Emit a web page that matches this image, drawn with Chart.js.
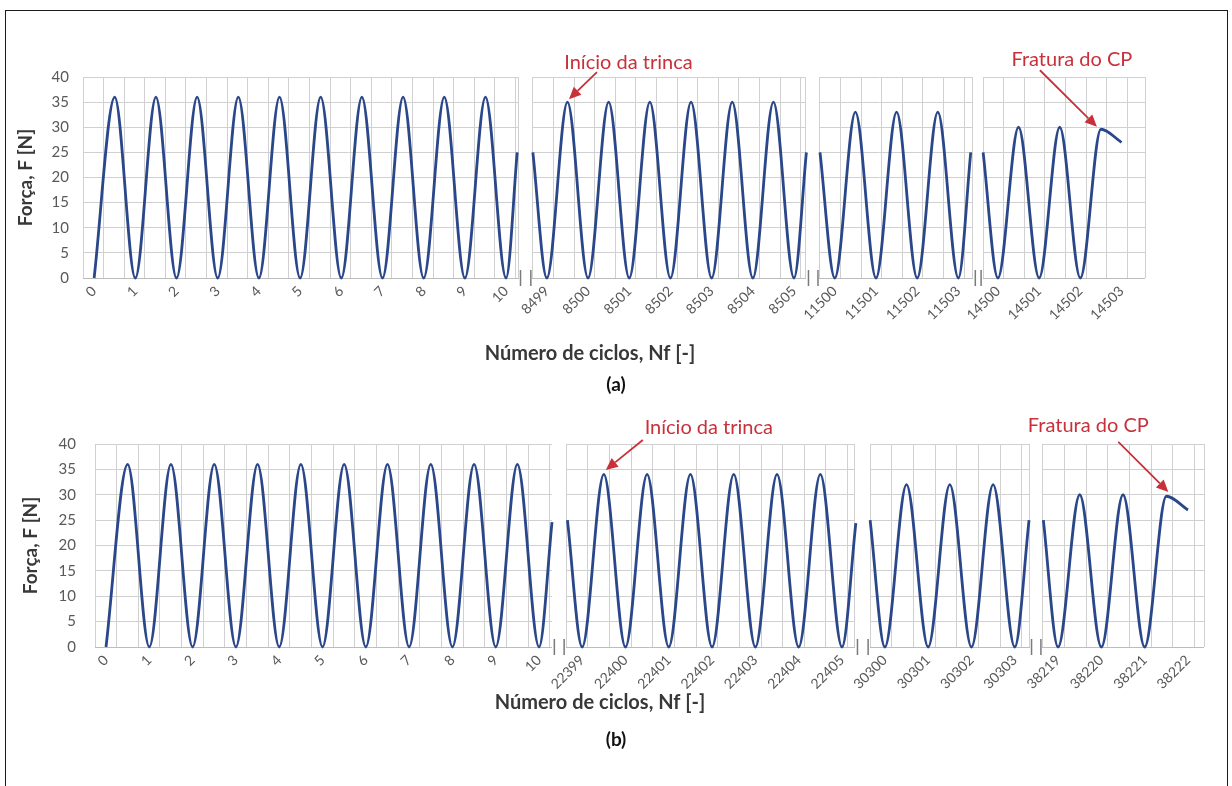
<!DOCTYPE html>
<html>
<head>
<meta charset="utf-8">
<title>Força x Número de ciclos</title>
<script src="https://cdn.jsdelivr.net/npm/chart.js@4.4.1/dist/chart.umd.min.js"></script>
<style>
  html, body { margin: 0; padding: 0; background: #fff; }
  #page { position: relative; width: 1232px; height: 786px; overflow: hidden; background: #fff; }
  #frame { position: absolute; left: 5px; top: 10px; width: 1223px; height: 800px;
           border: 1.5px solid #1b1b1b; box-sizing: border-box; }
  .panel { position: absolute; left: 0; width: 1232px; }
  #panelA { top: 0; height: 420px; }
  #panelB { top: 393px; height: 393px; }
</style>
</head>
<body>
<div id="page">
  <div id="frame"></div>
  <div class="panel" id="panelA"><canvas id="chartA" width="1232" height="420"></canvas></div>
  <div class="panel" id="panelB"><canvas id="chartB" width="1232" height="393"></canvas></div>
</div>
<script>
// ---------------- Test (a): force at each trough / crest of the recorded cycle blocks ----------------
const cyclesA1 = [0, 0.5, 1, 1.5, 2, 2.5, 3, 3.5, 4, 4.5, 5, 5.5, 6, 6.5, 7, 7.5, 8, 8.5, 9, 9.5, 10, 10.27];
const forceA1  = [0, 36, 0, 36, 0, 36, 0, 36, 0, 36, 0, 36, 0, 36, 0, 36, 0, 36, 0, 36, 0, 25];
const cyclesA2 = [8498.66, 8499, 8499.5, 8500, 8500.5, 8501, 8501.5, 8502, 8502.5, 8503, 8503.5, 8504, 8504.5, 8505, 8505.3];
const forceA2  = [25, 0, 35, 0, 35, 0, 35, 0, 35, 0, 35, 0, 35, 0, 25];
const cyclesA3 = [11499.64, 11500, 11500.5, 11501, 11501.5, 11502, 11502.5, 11503, 11503.3];
const forceA3  = [25, 0, 33, 0, 33, 0, 33, 0, 25];
const cyclesA4 = [14499.64, 14500, 14500.5, 14501, 14501.5, 14502, 14502.5, 14503];
const forceA4  = [25, 0, 30, 0, 30, 0, 29.6, 27];

const labelsA1 = [0, 1, 2, 3, 4, 5, 6, 7, 8, 9, 10];
const labelsA2 = [8499, 8500, 8501, 8502, 8503, 8504, 8505];
const labelsA3 = [11500, 11501, 11502, 11503];
const labelsA4 = [14500, 14501, 14502, 14503];

// ---------------- Test (b) ----------------
const cyclesB1 = [0, 0.5, 1, 1.5, 2, 2.5, 3, 3.5, 4, 4.5, 5, 5.5, 6, 6.5, 7, 7.5, 8, 8.5, 9, 9.5, 10, 10.3];
const forceB1  = [0, 36, 0, 36, 0, 36, 0, 36, 0, 36, 0, 36, 0, 36, 0, 36, 0, 36, 0, 36, 0, 24.6];
const cyclesB2 = [22398.66, 22399, 22399.5, 22400, 22400.5, 22401, 22401.5, 22402, 22402.5, 22403, 22403.5, 22404, 22404.5, 22405, 22405.32];
const forceB2  = [25, 0, 34, 0, 34, 0, 34, 0, 34, 0, 34, 0, 34, 0, 24.4];
const cyclesB3 = [30299.66, 30300, 30300.5, 30301, 30301.5, 30302, 30302.5, 30303, 30303.33];
const forceB3  = [25, 0, 32, 0, 32, 0, 32, 0, 25];
const cyclesB4 = [38218.66, 38219, 38219.5, 38220, 38220.5, 38221, 38221.5, 38222];
const forceB4  = [25, 0, 30, 0, 30, 0, 29.7, 27];

const labelsB1 = [0, 1, 2, 3, 4, 5, 6, 7, 8, 9, 10];
const labelsB2 = [22399, 22400, 22401, 22402, 22403, 22404, 22405];
const labelsB3 = [30300, 30301, 30302, 30303];
const labelsB4 = [38219, 38220, 38221, 38222];

const yTicks = [0, 5, 10, 15, 20, 25, 30, 35, 40];

// ---------------- styling ----------------
const FONT = 'Lato, "Open Sans", sans-serif';
const LINE = '#2a4789';
const GRID = '#d0d0d0';
const AXIS = '#bcbcbc';
const TICK = '#595959';
const TITLE = '#383838';
const RED = '#c8303a';

// Broken axis: each recorded block is placed on a shared axis by aligning one of its
// cycles (c) to a position (v) of that axis; "grid" is the extent of the block's grid.
const panelA = {
  canvas: 'chartA', left: 83, right: 1145, top: 77, bottom: 278, height: 420, span: 25.78,
  yTickPad: 14, yTitlePad: 14,
  blocks: [
    { cycles: cyclesA1, force: forceA1, labels: labelsA1, ref: { c: 0, v: 0.27 },     grid: [0, 10.56] },
    { cycles: cyclesA2, force: forceA2, labels: labelsA2, ref: { c: 8499, v: 11.26 },  grid: [10.92, 17.55] },
    { cycles: cyclesA3, force: forceA3, labels: labelsA3, ref: { c: 11500, v: 18.25 }, grid: [17.89, 21.6] },
    { cycles: cyclesA4, force: forceA4, labels: labelsA4, ref: { c: 14500, v: 22.21 }, grid: [21.85, 25.78] }
  ],
  xTitle: { x: 590, y: 354 }, tag: { text: '(a)', x: 616, y: 385 },
  notes: [
    { text: 'Início da trinca', block: 1, index: 2, tip: [1.5, -3], tail: [29.5, -30], label: [61, -40] },
    { text: 'Fratura do CP',    block: 3, index: 6, tip: [-4, -2.5], tail: [-61, -59], label: [-29, -70] }
  ]
};

const panelB = {
  canvas: 'chartB', left: 95, right: 1204, top: 51, bottom: 254, height: 393, span: 25.61,
  yTickPad: 19, yTitlePad: 19,
  blocks: [
    { cycles: cyclesB1, force: forceB1, labels: labelsB1, ref: { c: 0, v: 0.254 },    grid: [0, 10.55] },
    { cycles: cyclesB2, force: forceB2, labels: labelsB2, ref: { c: 22399, v: 11.25 }, grid: [10.88, 17.55] },
    { cycles: cyclesB3, force: forceB3, labels: labelsB3, ref: { c: 30300, v: 18.24 }, grid: [17.9, 21.57] },
    { cycles: cyclesB4, force: forceB4, labels: labelsB4, ref: { c: 38219, v: 22.24 }, grid: [21.89, 25.61] }
  ],
  xTitle: { x: 600, y: 310 }, tag: { text: '(b)', x: 616, y: 347 },
  notes: [
    { text: 'Início da trinca', block: 1, index: 2, tip: [2, -4.5], tail: [39, -34.5], label: [105, -46.5] },
    { text: 'Fratura do CP',    block: 3, index: 6, tip: [2, -4.3], tail: [-48, -54.3], label: [-78, -70.3] }
  ]
};

function drawArrow(ctx, x0, y0, x1, y1) {
  const ang = Math.atan2(y1 - y0, x1 - x0), L = 12, W = 5.5;
  const bx = x1 - L * Math.cos(ang), by = y1 - L * Math.sin(ang);
  ctx.beginPath(); ctx.moveTo(x0, y0); ctx.lineTo(bx, by); ctx.stroke();
  ctx.beginPath();
  ctx.moveTo(x1, y1);
  ctx.lineTo(bx + W * Math.sin(ang), by - W * Math.cos(ang));
  ctx.lineTo(bx - W * Math.sin(ang), by + W * Math.cos(ang));
  ctx.closePath(); ctx.fill();
}

// Clears the grid between blocks, draws the "||" break marks, titles and callouts.
const brokenAxisDecor = {
  id: 'brokenAxisDecor',
  beforeDatasetsDraw(chart, args, o) {
    const { ctx, chartArea: ca } = chart;
    const x = chart.scales.x;
    const blocks = o.panel.blocks;
    ctx.save();
    for (let i = 0; i < blocks.length - 1; i++) {
      const a = x.getPixelForValue(blocks[i].grid[1]);
      const b = x.getPixelForValue(blocks[i + 1].grid[0]);
      ctx.fillStyle = '#fff';
      ctx.fillRect(Math.floor(a) + 1, ca.top - 2, Math.floor(b) - Math.floor(a) - 1, ca.bottom - ca.top + 4);
      ctx.strokeStyle = '#7a7a7a';
      ctx.lineWidth = 1.5;
      [a + 2.5, b - 2].forEach(px => {
        ctx.beginPath(); ctx.moveTo(px, ca.bottom - 8); ctx.lineTo(px, ca.bottom + 8); ctx.stroke();
      });
    }
    ctx.restore();
  },
  afterDraw(chart, args, o) {
    const p = o.panel;
    const ctx = chart.ctx;
    ctx.save();
    ctx.textAlign = 'center';
    ctx.textBaseline = 'middle';
    ctx.fillStyle = TITLE;
    ctx.font = 'bold 20px ' + FONT;
    ctx.fillText('Número de ciclos, Nf [-]', p.xTitle.x, p.xTitle.y);
    ctx.fillStyle = '#111';
    ctx.font = 'bold 19px ' + FONT;
    ctx.fillText(p.tag.text, p.tag.x, p.tag.y);

    ctx.strokeStyle = RED;
    ctx.fillStyle = RED;
    ctx.lineWidth = 1.8;
    ctx.font = '20px ' + FONT;
    p.notes.forEach(n => {
      const pt = chart.getDatasetMeta(n.block).data[n.index];
      drawArrow(ctx, pt.x + n.tail[0], pt.y + n.tail[1], pt.x + n.tip[0], pt.y + n.tip[1]);
      ctx.fillText(n.text, pt.x + n.label[0], pt.y + n.label[1]);
    });
    ctx.restore();
  }
};

function buildPanel(p) {
  const toAxis = (blk, c) => c - blk.ref.c + blk.ref.v;
  const labelTicks = [], labelText = [];
  p.blocks.forEach(blk => blk.labels.forEach(l => { labelTicks.push(toAxis(blk, l)); labelText.push(String(l)); }));
  const gridTicks = [];
  p.blocks.forEach(blk => {
    for (let g = blk.grid[0]; g <= blk.grid[1] + 1e-6; g += 0.5) gridTicks.push(g);
    if (gridTicks[gridTicks.length - 1] < blk.grid[1] - 0.05) gridTicks.push(blk.grid[1]);
  });

  const datasets = p.blocks.map(blk => ({
    data: blk.cycles.map((c, i) => ({ x: toAxis(blk, c), y: blk.force[i] })),
    borderColor: LINE,
    borderWidth: 2.8,
    pointRadius: 0,
    fill: false,
    cubicInterpolationMode: 'monotone',
    clip: false
  }));

  return new Chart(document.getElementById(p.canvas), {
    type: 'line',
    data: { datasets },
    options: {
      responsive: false,
      animation: false,
      events: [],
      layout: { padding: { top: p.top, right: 1232 - p.right, left: 0, bottom: 0 } },
      plugins: {
        legend: { display: false },
        tooltip: { enabled: false },
        brokenAxisDecor: { panel: p }
      },
      scales: {
        x: {
          type: 'linear', position: 'bottom', min: 0, max: p.span, weight: 1,
          grid: { display: false, drawTicks: false },
          border: { display: false },
          ticks: {
            autoSkip: false, minRotation: 45, maxRotation: 45, padding: 5,
            color: TICK, font: { family: FONT, size: 14 },
            callback: (v, i) => labelText[i]
          },
          afterBuildTicks: s => { s.ticks = labelTicks.map(v => ({ value: v })); },
          afterFit: s => { s.height = p.height - p.bottom; s.paddingLeft = 0; s.paddingRight = 0; }
        },
        xg: {
          type: 'linear', position: 'bottom', min: 0, max: p.span, weight: 0,
          grid: { color: GRID, lineWidth: 1, drawTicks: false },
          border: { display: false },
          ticks: { display: false },
          afterBuildTicks: s => { s.ticks = gridTicks.map(v => ({ value: v })); },
          afterFit: s => { s.height = 0; s.paddingLeft = 0; s.paddingRight = 0; }
        },
        y: {
          type: 'linear', min: 0, max: 40,
          grid: { color: c => (c.tick && c.tick.value === 0 ? AXIS : GRID), lineWidth: 1, drawTicks: false },
          border: { display: false },
          ticks: { padding: p.yTickPad, color: TICK, font: { family: FONT, size: 15 } },
          afterBuildTicks: s => { s.ticks = yTicks.map(v => ({ value: v })); },
          title: {
            display: true, text: 'Força, F [N]', color: TITLE,
            font: { family: FONT, size: 19, weight: 'bold' },
            padding: { top: p.yTitlePad, bottom: 0 }
          },
          afterFit: s => { s.width = p.left; }
        }
      }
    },
    plugins: [brokenAxisDecor]
  });
}

buildPanel(panelA);
buildPanel(panelB);
</script>
</body>
</html>
